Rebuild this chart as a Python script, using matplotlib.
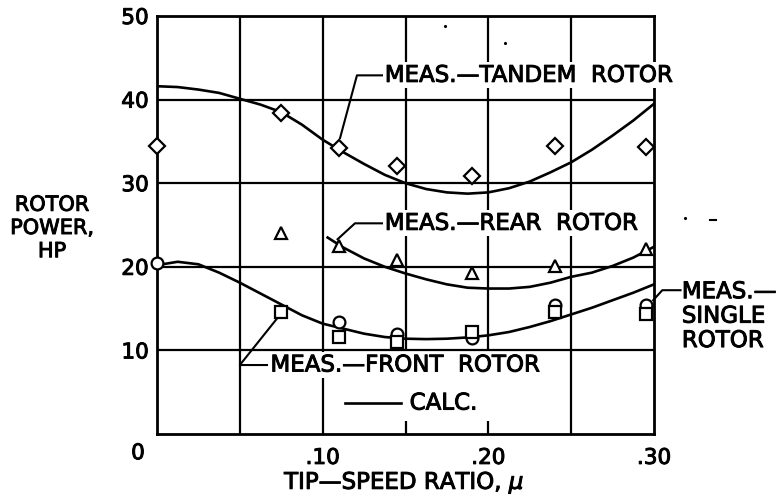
import matplotlib
matplotlib.use("Agg")
import matplotlib.pyplot as plt
import matplotlib.patheffects as pe

# ---- data ----
tandem_mu = [0.0, 0.075, 0.11, 0.145, 0.19, 0.24, 0.295]
tandem_hp = [34.4, 38.4, 34.2, 32.0, 30.9, 34.4, 34.3]

rear_mu = [0.075, 0.11, 0.145, 0.19, 0.24, 0.295]
rear_hp = [24.0, 22.5, 20.8, 19.3, 20.1, 22.1]

single_mu = [0.0, 0.11, 0.145, 0.19, 0.24, 0.295]
single_hp = [20.4, 13.4, 12.0, 11.5, 15.4, 15.4]

front_mu = [0.075, 0.11, 0.145, 0.19, 0.24, 0.295]
front_hp = [14.6, 11.6, 11.0, 12.2, 14.6, 14.4]

calc_tandem_mu = [0, 0.0125, 0.025, 0.0375, 0.05, 0.0625, 0.075, 0.0875, 0.10, 0.1125,
                  0.125, 0.1375, 0.15, 0.1625, 0.175, 0.1875, 0.20, 0.2125, 0.225,
                  0.2375, 0.25, 0.2625, 0.275, 0.2875, 0.30]
calc_tandem_hp = [41.6, 41.5, 41.2, 40.8, 40.1, 39.4, 38.5, 37.0, 35.2, 33.7,
                  32.3, 31.0, 30.0, 29.3, 28.9, 28.75, 28.9, 29.4, 30.2,
                  31.3, 32.5, 34.0, 35.7, 37.5, 39.5]

calc_rear_mu = [0.103, 0.1125, 0.125, 0.1375, 0.15, 0.1625, 0.175, 0.1875, 0.20,
                0.2125, 0.225, 0.2375, 0.25, 0.2625, 0.275, 0.2875, 0.302]
calc_rear_hp = [23.5, 22.3, 21.0, 20.0, 19.2, 18.5, 17.9, 17.5, 17.4,
                17.4, 17.6, 18.1, 18.8, 19.3, 20.1, 21.1, 22.6]

calc_single_mu = [0, 0.0125, 0.025, 0.0375, 0.05, 0.0625, 0.075, 0.0875, 0.10, 0.1125,
                  0.125, 0.1375, 0.15, 0.1625, 0.175, 0.1875, 0.20, 0.2125, 0.225,
                  0.2375, 0.25, 0.2625, 0.275, 0.2875, 0.30]
calc_single_hp = [20.2, 20.6, 20.3, 19.3, 18.1, 16.8, 15.5, 14.2, 13.2, 12.6,
                  12.0, 11.6, 11.4, 11.35, 11.4, 11.55, 11.8, 12.2, 12.8,
                  13.5, 14.3, 15.1, 16.0, 16.9, 17.9]

x_ticks = [0.10, 0.20, 0.30]
x_ticklabels = [".10", ".20", ".30"]
y_ticks = [10, 20, 30, 40, 50]
y_ticklabels = ["10", "20", "30", "40", "50"]

# ---- figure ----
plt.rcParams['font.family'] = ['DejaVu Sans']
plt.rcParams['mathtext.default'] = 'it'
FS = 16.5      # annotations / x label
FST = 15.5     # tick labels
FSY = 15       # y label
heavy = [pe.withStroke(linewidth=0.7, foreground='black')]

fig = plt.figure(figsize=(7.79, 4.99), dpi=100)
ax = fig.add_axes([157/779, 65/499, 497/779, 418/499])
ax.set_xlim(0, 0.30)
ax.set_ylim(0, 50)

K = 'black'
glw = 1.6
for yv in [10, 20, 30, 40]:
    ax.axhline(yv, color=K, lw=glw, zorder=1)
for xv in [0.05, 0.10, 0.25]:
    ax.axvline(xv, color=K, lw=glw, zorder=1)
for xv in [0.15, 0.20]:
    ax.vlines(xv, 10, 50, color=K, lw=glw, zorder=1)
    ax.vlines(xv, 0, 1.6, color=K, lw=glw, zorder=1)

for s in ax.spines.values():
    s.set_linewidth(2.0)
    s.set_color(K)

ax.set_xticks(x_ticks)
ax.set_xticklabels(x_ticklabels, fontsize=FST)
ax.set_yticks(y_ticks)
ax.set_yticklabels(y_ticklabels, fontsize=FST)
ax.tick_params(length=0, pad=6)
ax.tick_params(axis='x', pad=10)
for t in ax.get_xticklabels() + ax.get_yticklabels():
    t.set_path_effects(heavy)

texts = []
# origin label
texts.append(ax.text(-0.0115, -2.3, "0", fontsize=FST, ha='center', va='center',
                     clip_on=False))

# calc curves
clw = 1.9
ax.plot(calc_tandem_mu, calc_tandem_hp, color=K, lw=clw, zorder=2)
ax.plot(calc_rear_mu, calc_rear_hp, color=K, lw=clw, zorder=2)
ax.plot(calc_single_mu, calc_single_hp, color=K, lw=clw, zorder=2)

# measured points
mk = dict(linestyle='none', markerfacecolor='white', markeredgecolor=K,
          markeredgewidth=1.6, zorder=4, clip_on=False)
ax.plot(tandem_mu, tandem_hp, marker='D', markersize=8.5, **mk)
ax.plot(rear_mu, rear_hp, marker='^', markersize=9, **mk)
ax.plot(single_mu, single_hp, marker='o', markersize=8.5, **mk)
ax.plot(front_mu, front_hp, marker='s', markersize=8.5, **mk)

# annotations with leaders
llw = 1.5
box = dict(facecolor='white', edgecolor='none', pad=1.0)
ax.plot([0.1105, 0.1207, 0.1364], [35.4, 42.9, 42.9], color=K, lw=llw, zorder=3)
texts.append(ax.text(0.1375, 42.9, "MEAS.\u2014TANDEM  ROTOR", fontsize=FS, ha='left',
                     va='center', bbox=box, zorder=3, clip_on=False))
ax.plot([0.109, 0.1195, 0.1364], [23.3, 25.2, 25.2], color=K, lw=llw, zorder=3)
texts.append(ax.text(0.1375, 25.2, "MEAS.\u2014REAR  ROTOR", fontsize=FS, ha='left',
                     va='center', bbox=box, zorder=3, clip_on=False))
ax.plot([0.0732, 0.050, 0.0664], [14.0, 8.25, 8.25], color=K, lw=llw, zorder=3)
texts.append(ax.text(0.0685, 8.25, "MEAS.\u2014FRONT  ROTOR", fontsize=FS, ha='left',
                     va='center', bbox=box, zorder=3))
ax.plot([0.1135, 0.1473], [3.7, 3.7], color=K, lw=clw, zorder=3)
texts.append(ax.text(0.1525, 3.7, "CALC.", fontsize=FS, ha='left', va='center', zorder=3))
ax.plot([0.2995, 0.305, 0.3160], [16.0, 17.2, 17.2], color=K, lw=llw, zorder=3,
        clip_on=False)
texts.append(ax.text(0.3168, 14.1, "MEAS.\u2014\nSINGLE\nROTOR", fontsize=FS, ha='left',
                     va='center', linespacing=1.08, clip_on=False, zorder=3))

# stray scan marks
ax.plot([0.174, 0.21, 0.319], [48.8, 46.8, 25.8], 'k.', markersize=2.5, clip_on=False)
ax.plot([0.334, 0.3375], [25.6, 25.6], color=K, lw=1.5, clip_on=False)

# axis labels
texts.append(fig.text(52/779, 1 - 228/499, "ROTOR\nPOWER,\nHP", fontsize=FSY, ha='center',
                      va='center', multialignment='center', linespacing=1.2))
texts.append(fig.text(404/779, 1 - 483/499, "TIP\u2014SPEED RATIO, $\\mu$", fontsize=FS,
                      ha='center', va='center'))
for t in texts:
    t.set_path_effects(heavy)

fig.savefig("out.png", dpi=100)
